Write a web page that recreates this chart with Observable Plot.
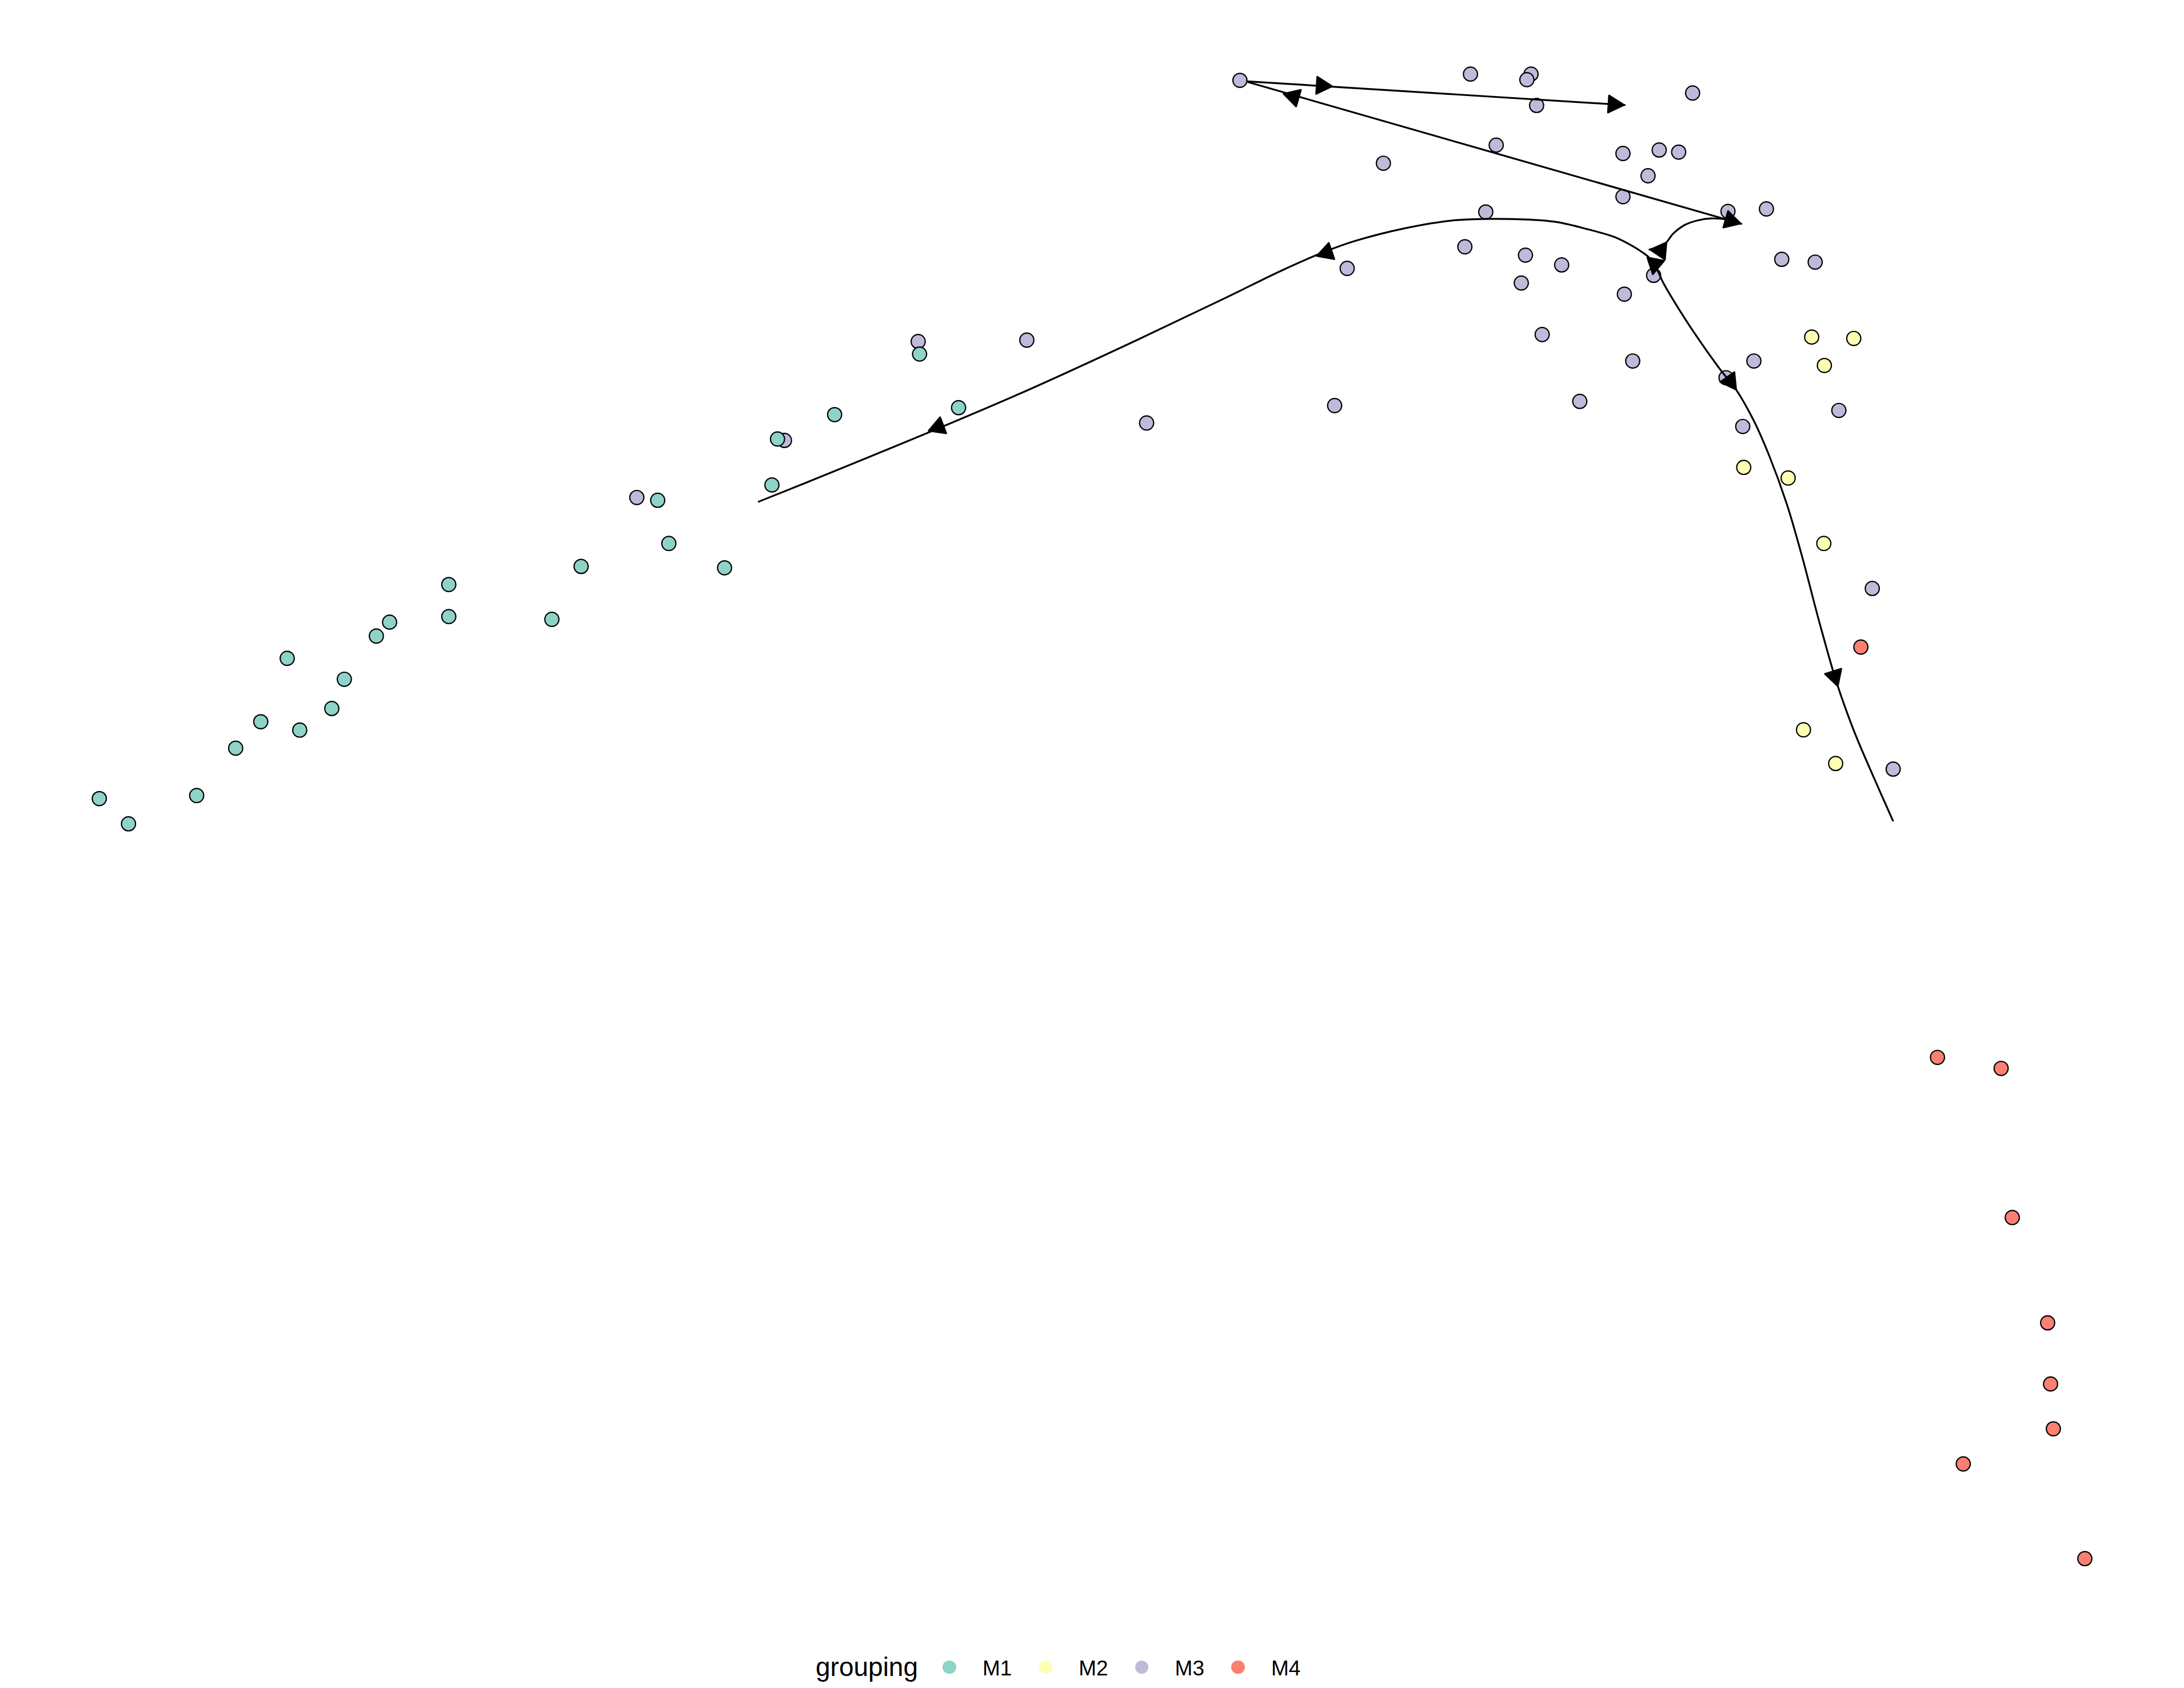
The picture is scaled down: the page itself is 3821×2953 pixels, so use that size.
<!DOCTYPE html>
<html>
<head>
<meta charset="utf-8">
<script src="https://cdn.jsdelivr.net/npm/d3@7"></script>
<script src="https://cdn.jsdelivr.net/npm/@observablehq/plot@0.6"></script>
<style>
  body { margin: 0; background: #ffffff; }
  #legend { position: relative; width: 3821px; height: 73px; font-family: "Liberation Sans", Arial, Helvetica, sans-serif; color: #000; }
  #legend span { position: absolute; white-space: nowrap; line-height: 1; }
</style>
</head>
<body>
<div id="chart"></div>
<div id="legend"></div>
<script>
// ---- categories & colours ----
const groups = ["M1", "M2", "M3", "M4"];
const groupColors = ["#8DD3C7", "#FFFFB3", "#BEBADA", "#FB8072"];
const legendTitle = "grouping";

// ---- cell embedding coordinates (component 1 = x, component 2 = y, y grows downward) ----
const m3X = [457, 563, 659, 737, 823, 958, 967, 890, 1055.5, 1099, 1096, 1103, 1215, 1074, 993, 1165, 1191, 1205, 1183, 1165, 1240.4, 1268, 1066.5, 1051.5, 1095, 1121, 1092, 1166, 1187, 1279, 1303, 1107, 1172, 1134, 1239, 1259, 1251, 1320, 1344, 1359];
const m3Y = [357, 316, 245, 244, 303.5, 291, 192.5, 57.5, 53, 53, 57, 75.5, 66.6, 104, 117, 110, 107.5, 109, 126, 141, 151.6, 149.8, 152, 177, 183, 190, 203, 211, 197.5, 186, 188, 240, 259, 288, 271, 259, 306, 294.5, 422.3, 552];

const m1X = [71.1, 92.05, 141, 169, 187, 215, 206, 238, 247, 270, 279.5, 322, 322, 396, 417, 472, 480, 520, 554, 558, 599, 660, 688];
const m1Y = [573.2, 591.3, 571, 537, 518, 524, 472.5, 508.5, 487.5, 456.5, 446.5, 419.5, 442.5, 444.5, 406.5, 359, 390, 407.5, 348, 315, 297.5, 254, 292.5];

const m2X = [1300.5, 1330.7, 1309.6, 1251.7, 1283.6, 1309.2, 1294.6, 1317.7];
const m2Y = [241.8, 242.8, 262.2, 335.4, 343, 390, 523.8, 548];

const m4X = [1335.8, 1390.8, 1436.5, 1444.5, 1469.9, 1472, 1474, 1409.3, 1496.6];
const m4Y = [464.4, 759, 766.9, 874, 949.6, 993.5, 1025.7, 1050.9, 1118.9];

// ---- principal curves (trajectories) ----
const mainCurveX = [544.5, 599.6, 672, 737.5, 816, 879, 920, 951, 973, 1007, 1043.6, 1083, 1116, 1140, 1159, 1172, 1179, 1184, 1189.5, 1194, 1201, 1216, 1234, 1246.5, 1259, 1270, 1282.6, 1293.5, 1306, 1318.6, 1331, 1345.5, 1358.8];
const mainCurveY = [360, 337.8, 308, 280, 244, 214, 194, 180.5, 172.7, 164, 158, 157, 159, 164.5, 170, 176.5, 181, 185, 193.5, 203, 215, 238.5, 264, 280, 302, 327, 361.6, 399, 446.5, 490.5, 525, 559, 589];

const branchCurveX = [1184, 1195, 1201, 1209.2, 1218.8, 1228.3, 1238];
const branchCurveY = [179, 175, 167.6, 161.4, 158, 156.6, 157.2];

const returnLineX = [896, 1250];
const returnLineY = [58.8, 160.5];

const upperLineX = [895.3, 1166.3];
const upperLineY = [58.2, 75.2];

// ---- arrow heads: tip position and direction ----
const arrowTipX = [666, 944.7, 1186.3, 1184, 1250, 956.8, 1166.3, 920.8, 1246.6, 1319.4];
const arrowTipY = [309.3, 183.8, 197.3, 179, 160.5, 61.8, 75.2, 67.0, 280.1, 493];
const arrowDirX = [-1, -1, -4.7, -28, 1, 1, 1, -1, 0.57, 0.30];
const arrowDirY = [0.38, 0.34, 24, -2.5, 0.29, 0.063, 0.063, -0.29, 0.82, 0.95];

// ---- build tables ----
function pts(xs, ys, g) { return xs.map((x, i) => ({x, y: ys[i], group: g})); }
const cells = [
  ...pts(m3X, m3Y, "M3"),
  ...pts(m1X, m1Y, "M1"),
  ...pts(m2X, m2Y, "M2"),
  ...pts(m4X, m4Y, "M4")
];
function path(xs, ys) { return xs.map((x, i) => ({x, y: ys[i]})); }
const arrows = arrowTipX.map((x, i) => ({
  x, y: arrowTipY[i],
  angle: Math.atan2(arrowDirY[i], arrowDirX[i]) * 180 / Math.PI
}));

const W = 3821, H = 2880;
const yMax = H / (2953 / 1212);

// closed arrow head pointing to +x with tip at origin
const arrowHead = {
  draw(ctx) {
    ctx.moveTo(-1.5, 0);
    ctx.lineTo(-28.5, -15);
    ctx.lineTo(-28.5, 15);
    ctx.closePath();
  }
};

const chart = Plot.plot({
  width: W,
  height: H,
  margin: 0,
  style: {background: "#ffffff"},
  x: {domain: [0, 1568], range: [0, W], axis: null},
  y: {domain: [0, yMax], range: [0, H], axis: null},
  color: {domain: groups, range: groupColors},
  marks: [
    Plot.dot(cells, {x: "x", y: "y", fill: "group", stroke: "#000000", strokeWidth: 2.2, r: 12.3}),
    Plot.line(path(mainCurveX, mainCurveY), {x: "x", y: "y", stroke: "#000000", strokeWidth: 3.2, curve: "catmull-rom"}),
    Plot.line(path(branchCurveX, branchCurveY), {x: "x", y: "y", stroke: "#000000", strokeWidth: 3.2, curve: "catmull-rom"}),
    Plot.line(path(returnLineX, returnLineY), {x: "x", y: "y", stroke: "#000000", strokeWidth: 3.2}),
    Plot.line(path(upperLineX, upperLineY), {x: "x", y: "y", stroke: "#000000", strokeWidth: 3.2}),
    Plot.dot(arrows, {x: "x", y: "y", rotate: "angle", symbol: arrowHead, fill: "#000000", stroke: "#000000", strokeWidth: 3, strokeLinejoin: "round"})
  ]
});
document.getElementById("chart").appendChild(chart);

// ---- legend below the plot ----
const legend = document.getElementById("legend");
const title = document.createElement("span");
title.textContent = legendTitle;
title.style.left = "1427px";
title.style.top = "12.8px";
title.style.fontSize = "46px";
legend.appendChild(title);
const step = 168.3;
groups.forEach((g, i) => {
  const key = document.createElement("span");
  key.style.left = (1661 + step * i - 11.7) + "px";
  key.style.top = (36.7 - 11.7) + "px";
  key.style.width = "23.4px";
  key.style.height = "23.4px";
  key.style.borderRadius = "50%";
  key.style.background = groupColors[i];
  legend.appendChild(key);
  const lab = document.createElement("span");
  lab.textContent = g;
  lab.style.left = (1719 + step * i) + "px";
  lab.style.top = "20.4px";
  lab.style.fontSize = "37px";
  legend.appendChild(lab);
});
</script>
</body>
</html>
